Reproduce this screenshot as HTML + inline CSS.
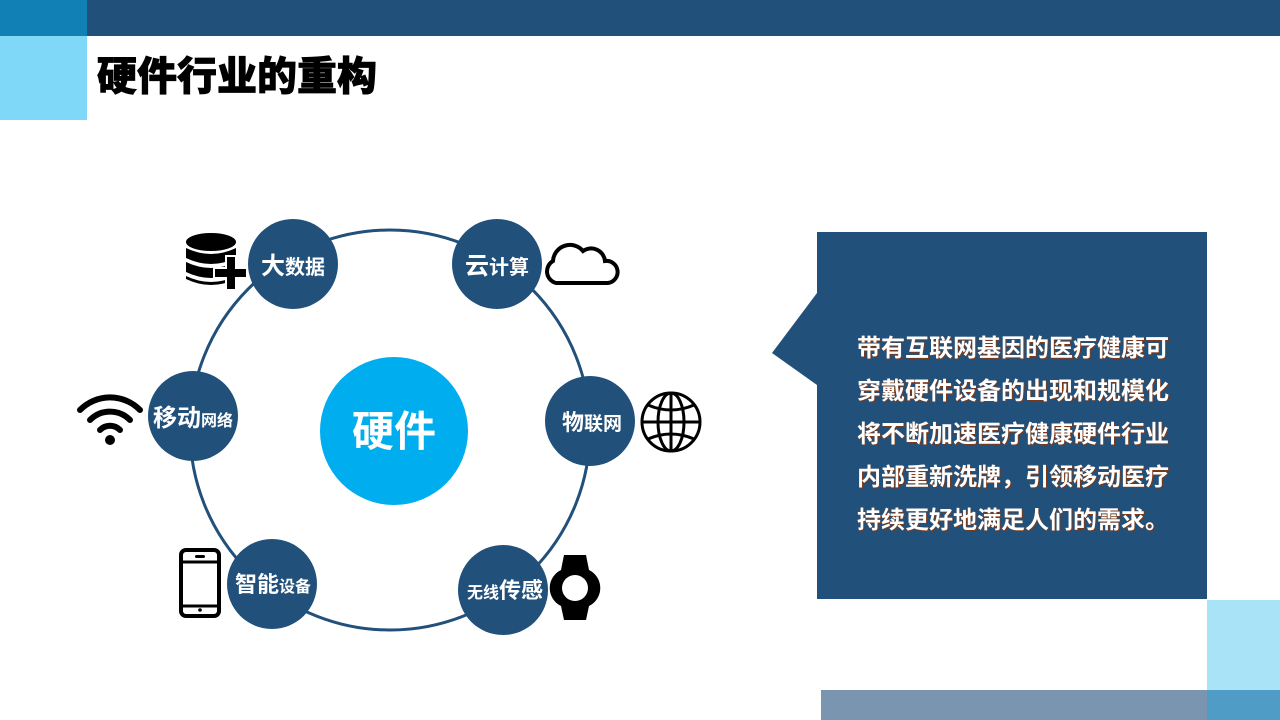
<!DOCTYPE html>
<html><head><meta charset="utf-8">
<style>
*{margin:0;padding:0;box-sizing:border-box}
body{width:1280px;height:720px;position:relative;background:#fff;overflow:hidden;font-family:"Liberation Sans","Noto Sans CJK SC",sans-serif}
.a{position:absolute}
.title{left:97px;top:52px;font-size:40px;font-weight:900;color:#000;line-height:50px;-webkit-text-stroke:0.8px #000}
.para{left:857px;top:327px;color:#fff;font-weight:bold;font-size:24px;line-height:43px;text-shadow:1px 1px 0 #7a3a1a}
</style></head><body>
<div class="a" style="left:0;top:0;width:87px;height:36px;background:#1080B5"></div>
<div class="a" style="left:87px;top:0;width:1193px;height:36px;background:#21507A"></div>
<div class="a" style="left:0;top:36px;width:87px;height:84px;background:#7FD8F8"></div>
<div class="a title">硬件行业的重构</div>

<div class="a" style="left:1207px;top:600px;width:73px;height:90px;background:#A9E3F8"></div>
<div class="a" style="left:821px;top:690px;width:386px;height:30px;background:#7A95B0"></div>
<div class="a" style="left:1207px;top:690px;width:73px;height:30px;background:#4F9DC6"></div>

<svg class="a" style="left:0;top:0" width="1280" height="720">
<polygon points="817,232 1207,232 1207,599 817,599 817,385 772,353 817,293" fill="#21507A"/>
<circle cx="390" cy="430" r="200" fill="none" stroke="#21507A" stroke-width="3"/>
<circle cx="394" cy="431" r="74" fill="#00AEEF"/>
<g fill="#21507A">
<circle cx="293" cy="264" r="45"/>
<circle cx="497" cy="264" r="45"/>
<circle cx="590" cy="421" r="45"/>
<circle cx="503" cy="590" r="45"/>
<circle cx="272" cy="584" r="45"/>
<circle cx="193" cy="416" r="45"/>
</g>
<g font-family="Liberation Sans,Noto Sans CJK SC,sans-serif" font-weight="bold" fill="#fff" text-anchor="middle">
<text x="394" y="446" font-size="42">硬件</text>
<text x="293" y="274"><tspan font-size="24">大</tspan><tspan font-size="20">数据</tspan></text>
<text x="497" y="274"><tspan font-size="24">云</tspan><tspan font-size="20">计算</tspan></text>
<text x="592" y="430"><tspan font-size="22">物</tspan><tspan font-size="19">联网</tspan></text>
<text x="505" y="598"><tspan font-size="16">无线</tspan><tspan font-size="22">传感</tspan></text>
<text x="273" y="592"><tspan font-size="22">智能</tspan><tspan font-size="16">设备</tspan></text>
<text x="193" y="426"><tspan font-size="24">移动</tspan><tspan font-size="16">网络</tspan></text>
</g>
<!-- db icon -->
<g fill="#000">
<ellipse cx="211" cy="242" rx="25" ry="9"/>
<path d="M186 248 q25 12 50 0 v10 q-25 12 -50 0z"/>
<path d="M186 262 q25 12 50 0 v10 q-25 12 -50 0z"/>
<path d="M186 276 q25 12 50 0 v3 q-25 12 -50 0z"/>
</g>
<path d="M227 257 h8 v12 h11 v8 h-11 v12 h-8 v-12 h-12 v-8 h12z" fill="#000" stroke="#fff" stroke-width="4" paint-order="stroke"/>
<!-- cloud -->
<path d="M556 283 h52 a11 11 0 0 0 -3 -22 a14 14 0 0 0 -22 -10 a17 17 0 0 0 -30 10 a12 12 0 0 0 3 22z" fill="none" stroke="#000" stroke-width="4"/>
<!-- globe -->
<g fill="none" stroke="#000" stroke-width="3">
<circle cx="671" cy="422" r="29"/>
<ellipse cx="671" cy="422" rx="13" ry="29"/>
<line x1="671" y1="393" x2="671" y2="451"/>
<line x1="642" y1="422" x2="700" y2="422"/>
<path d="M648 405 q23 10 46 0"/><path d="M648 439 q23 -10 46 0"/>
</g>
<!-- watch -->
<path d="M564 555 h22 l3 15 a20 20 0 0 1 0 36 l-3 14 h-22 l-3 -14 a20 20 0 0 1 0 -36z" fill="#000"/>
<circle cx="575" cy="588" r="13" fill="#fff"/>
<!-- phone -->
<rect x="181" y="550" width="38" height="66" rx="5" fill="none" stroke="#000" stroke-width="4"/>
<line x1="181" y1="562" x2="219" y2="562" stroke="#000" stroke-width="3"/>
<line x1="181" y1="606" x2="219" y2="606" stroke="#000" stroke-width="3"/>
<rect x="195" y="555" width="10" height="3" rx="1.5" fill="#000"/>
<circle cx="200" cy="610" r="1.8" fill="#000"/>
<!-- wifi -->
<g fill="none" stroke="#000" stroke-width="6" stroke-linecap="round">
<path d="M80 410 a42 42 0 0 1 60 0"/>
<path d="M90 420 a28 28 0 0 1 40 0"/>
<path d="M100 430 a14 14 0 0 1 20 0"/>
</g>
<circle cx="110" cy="440" r="5" fill="#000"/>
</svg>

<div class="a para">带有互联网基因的医疗健康可<br>穿戴硬件设备的出现和规模化<br>将不断加速医疗健康硬件行业<br>内部重新洗牌，引领移动医疗<br>持续更好地满足人们的需求。</div>
</body></html>
